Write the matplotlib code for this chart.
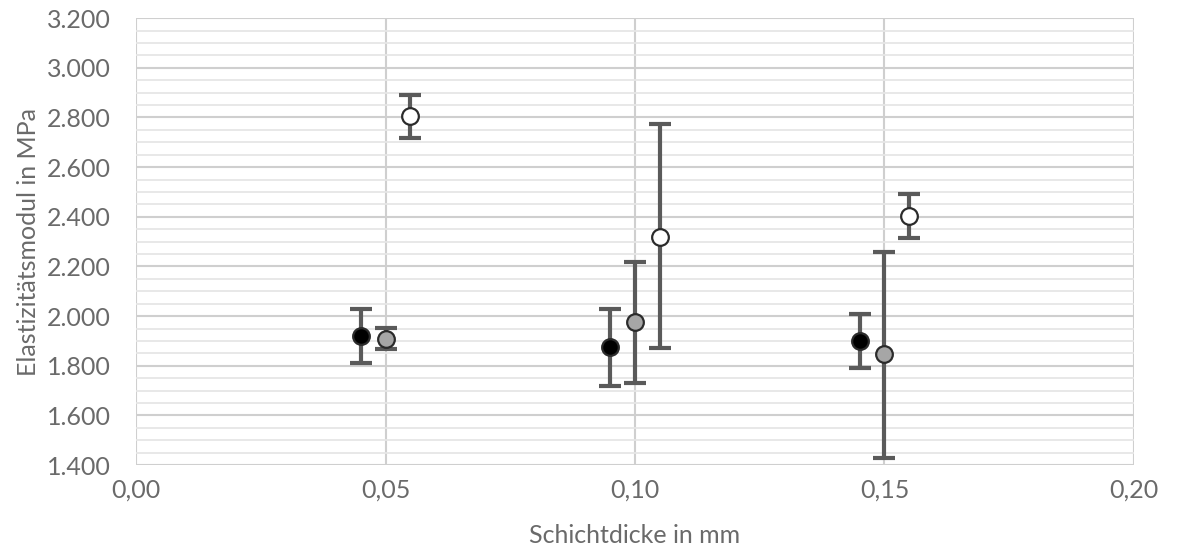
import numpy as np
import matplotlib.pyplot as plt
from matplotlib.ticker import MultipleLocator, FuncFormatter

plt.rcParams['font.family'] = ['Lato', 'Open Sans', 'DejaVu Sans']

x_black = [0.045, 0.095, 0.145]
y_black = [1920, 1875, 1900]
lo_black = [1810, 1720, 1790]
hi_black = [2030, 2030, 2010]

x_gray = [0.050, 0.100, 0.150]
y_gray = [1908, 1975, 1847]
lo_gray = [1868, 1730, 1428]
hi_gray = [1953, 2217, 2257]

x_white = [0.055, 0.105, 0.155]
y_white = [2805, 2318, 2402]
lo_white = [2716, 1871, 2314]
hi_white = [2889, 2772, 2491]

txt = '#6a6a6a'
bar = '#5a5a5a'

fig = plt.figure(figsize=(11.89, 5.51), dpi=100)
ax = fig.add_axes([0.1144, 0.156, 0.8393, 0.811])

series = [(x_black, y_black, lo_black, hi_black, 'black'),
          (x_gray, y_gray, lo_gray, hi_gray, '#a6a6a6'),
          (x_white, y_white, lo_white, hi_white, 'white')]
for xs, ys, lo, hi, fc in series:
    ys = np.array(ys)
    err = [ys - np.array(lo), np.array(hi) - ys]
    ax.errorbar(xs, ys, yerr=err, fmt='none', ecolor=bar, elinewidth=3,
                capsize=8, capthick=3, zorder=3)
    ax.plot(xs, ys, 'o', ms=12, mfc=fc, mec='#2b2b2b', mew=1.6, zorder=4)

ax.set_xlim(0, 0.20)
ax.set_ylim(1400, 3200)
ax.xaxis.set_major_locator(MultipleLocator(0.05))
ax.yaxis.set_major_locator(MultipleLocator(200))
ax.yaxis.set_minor_locator(MultipleLocator(50))
ax.xaxis.set_major_formatter(FuncFormatter(lambda v, p: f'{v:.2f}'.replace('.', ',')))
ax.yaxis.set_major_formatter(FuncFormatter(lambda v, p: f'{int(round(v)):,}'.replace(',', '.')))

ax.grid(which='major', color='#cfcfcf', lw=1.5, zorder=0)
ax.grid(which='minor', axis='y', color='#e6e6e6', lw=1.3, zorder=0)
ax.set_axisbelow(True)
for s in ax.spines.values():
    s.set_visible(False)
ax.tick_params(which='both', length=0, labelsize=18, colors=txt)
ax.tick_params(axis='y', pad=18)
ax.tick_params(axis='x', pad=10)

ax.set_xlabel('Schichtdicke in mm', fontsize=18, color=txt, labelpad=16)
ax.set_ylabel('Elastizitätsmodul in MPa', fontsize=18, color=txt)
ax.yaxis.set_label_coords(-0.096, 0.5)

fig.savefig('out.png', dpi=100, facecolor='white')
